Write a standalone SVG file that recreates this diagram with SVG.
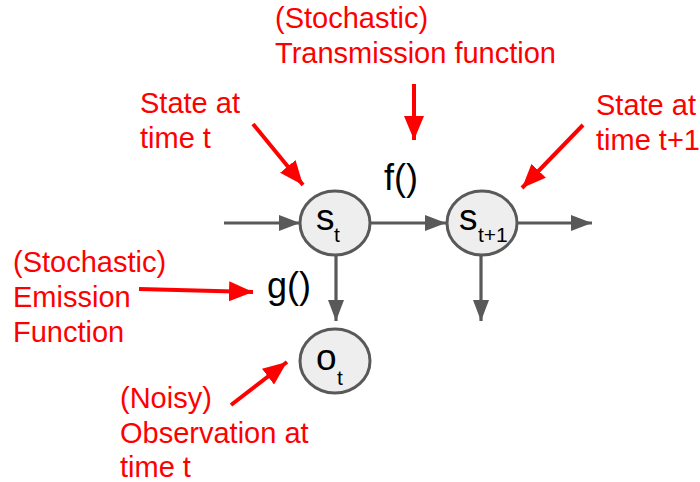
<svg xmlns="http://www.w3.org/2000/svg" width="700" height="482" viewBox="0 0 700 482">
<style>
.node{fill:#eeeeee;stroke:#595959;stroke-width:3}
.g{stroke:#595959;stroke-width:3.2;fill:none}
.r{stroke:#ff0000;stroke-width:4;fill:none}
.lab{font-family:"Liberation Sans",Arial,sans-serif;font-size:29px;fill:#ff0000}
.fn{font-family:"Liberation Sans",Arial,sans-serif;font-size:36px;fill:#000}
.nt{font-family:"Liberation Sans",Arial,sans-serif;font-size:37px;fill:#000}
.sub{font-size:21px}
</style>
<defs>
<marker id="ga" markerUnits="userSpaceOnUse" markerWidth="21" markerHeight="16" refX="21" refY="8" orient="auto"><path d="M0,0 L21,8 L0,16 z" fill="#595959"/></marker>
<marker id="ra" markerUnits="userSpaceOnUse" markerWidth="24" markerHeight="20" refX="24" refY="10" orient="auto"><path d="M0,0 L24,10 L0,20 z" fill="#ff0000"/></marker>
</defs>
<g id="connectors">
<line class="g" x1="224" y1="223" x2="300" y2="223" marker-end="url(#ga)"/>
<line class="g" x1="370" y1="223" x2="446" y2="223" marker-end="url(#ga)"/>
<line class="g" x1="518" y1="223" x2="592" y2="223" marker-end="url(#ga)"/>
<line class="g" x1="336" y1="255" x2="336" y2="321" marker-end="url(#ga)"/>
<line class="g" x1="481" y1="255" x2="481" y2="321" marker-end="url(#ga)"/>
<line class="r" x1="253" y1="124" x2="303" y2="185" marker-end="url(#ra)"/>
<line class="r" x1="414" y1="84" x2="414" y2="140" marker-end="url(#ra)"/>
<line class="r" x1="583" y1="125" x2="522" y2="188" marker-end="url(#ra)"/>
<line class="r" x1="139" y1="289" x2="253" y2="292" marker-end="url(#ra)"/>
<line class="r" x1="231" y1="405" x2="287" y2="362" marker-end="url(#ra)"/>
</g>
<g id="node-st">
<ellipse class="node" cx="335" cy="223" rx="35" ry="32"/>
<text class="nt" x="316" y="230">s<tspan class="sub" x="334" y="242">t</tspan></text>
</g>
<g id="node-st1">
<ellipse class="node" cx="482" cy="223" rx="35" ry="32"/>
<text class="nt" x="459" y="230">s<tspan class="sub" x="478" y="242">t+1</tspan></text>
</g>
<g id="node-ot">
<ellipse class="node" cx="335" cy="361" rx="35" ry="32"/>
<text class="nt" x="316" y="370">o<tspan class="sub" x="337" y="385">t</tspan></text>
</g>
<g id="label-f"><text class="fn" x="384" y="190">f()</text></g>
<g id="label-g"><text class="fn" x="267" y="298">g()</text></g>
<g id="label-transmission">
<text class="lab" x="275" y="28">(Stochastic)</text>
<text class="lab" x="275" y="63">Transmission function</text>
</g>
<g id="label-state-t">
<text class="lab" x="140" y="113">State at</text>
<text class="lab" x="140" y="148">time t</text>
</g>
<g id="label-state-t1">
<text class="lab" x="596" y="115" font-size="28.5">State at</text>
<text class="lab" x="596" y="150" font-size="28.5">time t+1</text>
</g>
<g id="label-emission">
<text class="lab" x="13" y="272">(Stochastic)</text>
<text class="lab" x="13" y="307">Emission</text>
<text class="lab" x="13" y="342">Function</text>
</g>
<g id="label-observation">
<text class="lab" x="120" y="408">(Noisy)</text>
<text class="lab" x="120" y="443">Observation at</text>
<text class="lab" x="120" y="477">time t</text>
</g>
</svg>
